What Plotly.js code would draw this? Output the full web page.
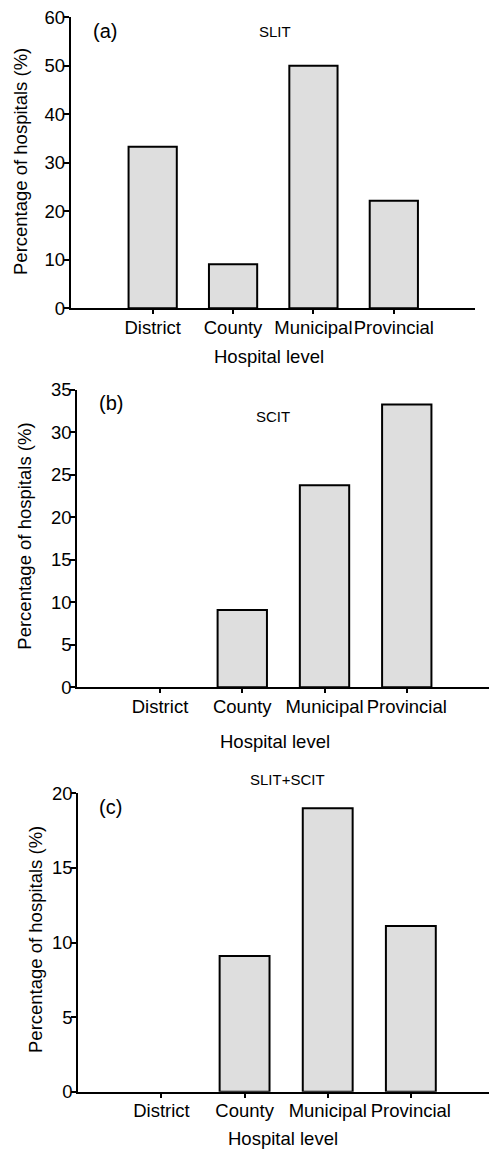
<!DOCTYPE html>
<html>
<head>
<meta charset="utf-8">
<script src="https://cdn.plot.ly/plotly-3.0.1.min.js"></script>
<style>
  html, body { margin: 0; padding: 0; background: #fff; }
  #chart { width: 489px; height: 1149px; }
</style>
</head>
<body>
<div id="chart"></div>
<script>
// Hospital levels shared by all three panels
const levels = ["District", "County", "Municipal", "Provincial"];

// Percentage of hospitals offering each therapy, by level
const slitPct = [33.3, 9.1, 50.0, 22.2];
const scitPct = [0, 9.1, 23.8, 33.3];
const bothPct = [0, 9.1, 19.0, 11.1];

const panelNames = ["SLIT", "SCIT", "SLIT+SCIT"];
const panelTags = ["(a)", "(b)", "(c)"];
const yMax = [60, 35, 20];
const yStep = [10, 5, 5];

const W = 489, H = 1149;
const FONT = "Liberation Sans, Arial, Helvetica, sans-serif";

// pixel boxes of each plot area: [left, right, top, bottom]
const boxes = [
  [70.7, 475, 17.3, 308.3],
  [77.3, 489, 390, 687.3],
  [78.3, 489, 793.3, 1091.7]
];
const xRanges = [[-1.02, 4.01], [-1.006, 4.0], [-1.0, 3.94]];

const px = v => v / W;
const py = v => 1 - v / H;

const series = [slitPct, scitPct, bothPct];
const traces = series.map((vals, i) => ({
  type: "bar",
  x: levels,
  y: vals,
  xaxis: i === 0 ? "x" : "x" + (i + 1),
  yaxis: i === 0 ? "y" : "y" + (i + 1),
  width: 0.6,
  marker: {
    color: "#dedede",
    // empty categories get no outline so nothing sits on the axis line
    line: { color: "#000", width: vals.map(v => (v > 0 ? 2 : 0)) }
  },
  hoverinfo: "x+y",
  showlegend: false
}));

const layout = {
  width: W, height: H,
  margin: { l: 0, r: 0, t: 0, b: 0 },
  paper_bgcolor: "#fff",
  plot_bgcolor: "rgba(0,0,0,0)",
  font: { family: FONT, size: 18, color: "#000" },
  showlegend: false,
  annotations: []
};

boxes.forEach((b, i) => {
  const sx = i === 0 ? "" : String(i + 1);
  layout["xaxis" + sx] = {
    domain: [px(b[0]), px(b[1])],
    anchor: "y" + sx,
    type: "category",
    categoryorder: "array",
    categoryarray: levels,
    range: xRanges[i],
    showline: true, linecolor: "#000", linewidth: 2,
    ticks: "outside", ticklen: 4, tickwidth: 2, tickcolor: "#000",
    tickangle: 0,
    ticklabelstandoff: -3,
    showgrid: false, zeroline: false,
    tickfont: { family: FONT, size: 18.5, color: "#000" }
  };
  layout["yaxis" + sx] = {
    domain: [py(b[3]), py(b[2])],
    anchor: "x" + sx,
    range: [0, yMax[i]],
    dtick: yStep[i], tick0: 0,
    showline: true, linecolor: "#000", linewidth: 2,
    ticks: "outside", ticklen: 5, tickwidth: 2, tickcolor: "#000",
    ticklabelstandoff: -5,
    showgrid: false, zeroline: false,
    tickfont: { family: FONT, size: 18.5, color: "#000" }
  };
});

// panel tags, therapy names and axis titles
const tagPos = [[91, 31], [97, 403], [97, 806.7]];
const namePos = [[275, 32], [272.7, 416.7], [287.3, 779.3]];
const xTitlePos = [[268.5, 356.7], [275, 741], [283, 1138.3]];
const yTitlePos = [[20, 162], [25, 536.7], [35, 940]];

for (let i = 0; i < 3; i++) {
  layout.annotations.push({
    text: panelTags[i], xref: "paper", yref: "paper",
    x: px(tagPos[i][0]), y: py(tagPos[i][1]),
    xanchor: "left", yanchor: "middle", showarrow: false,
    font: { family: FONT, size: 20, color: "#000" }
  });
  layout.annotations.push({
    text: panelNames[i], xref: "paper", yref: "paper",
    x: px(namePos[i][0]), y: py(namePos[i][1]),
    xanchor: "center", yanchor: "middle", showarrow: false,
    font: { family: FONT, size: 15, color: "#000" }
  });
  layout.annotations.push({
    text: "Hospital level", xref: "paper", yref: "paper",
    x: px(xTitlePos[i][0]), y: py(xTitlePos[i][1]),
    xanchor: "center", yanchor: "middle", showarrow: false,
    font: { family: FONT, size: 18.5, color: "#000" }
  });
  layout.annotations.push({
    text: "Percentage of hospitals (%)", xref: "paper", yref: "paper",
    x: px(yTitlePos[i][0]), y: py(yTitlePos[i][1]),
    xanchor: "center", yanchor: "middle", showarrow: false, textangle: -90,
    font: { family: FONT, size: 18.5, color: "#000" }
  });
}

Plotly.newPlot("chart", traces, layout, { staticPlot: true, displayModeBar: false });
</script>
</body>
</html>
